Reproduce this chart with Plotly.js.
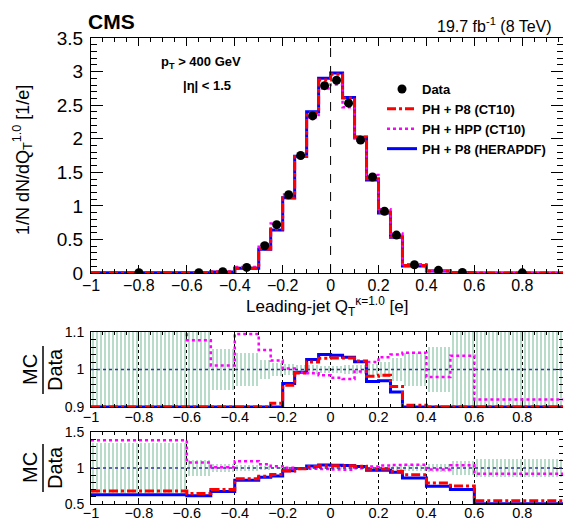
<!DOCTYPE html>
<html><head><meta charset="utf-8">
<script src="https://cdn.plot.ly/plotly-3.0.1.min.js"></script>
<style>html,body{margin:0;padding:0;background:#fff}#chart{width:563px;height:521px}</style>
</head><body><div id="chart"></div>
<script>
// ---- data ----
const binEdges = [-1,-0.6,-0.5,-0.4,-0.3,-0.25,-0.2,-0.15,-0.1,-0.05,0,0.05,0.1,0.15,0.2,0.25,0.3,0.4,0.5,0.6,1.0];
const dataValues = [0.003,0.005,0.02,0.083,0.406,0.72,1.165,1.75,2.34,2.79,2.87,2.53,1.98,1.43,0.92,0.565,0.123,0.04,0.008,0.002];
const dataRelErr = [0.35,0.11,0.055,0.045,0.025,0.018,0.014,0.012,0.011,0.01,0.01,0.011,0.012,0.015,0.02,0.03,0.045,0.06,0.1,0.13];
const mcP8CT10 = [0.002,0.0032,0.014,0.0706,0.359,0.655,1.116,1.734,2.387,2.874,2.959,2.608,2.026,1.404,0.906,0.540,0.111,0.0316,0.006,0.0011];
const mcHPPCT10 = [0.0042,0.0054,0.0202,0.0909,0.427,0.737,1.168,1.736,2.317,2.748,2.807,2.467,1.970,1.459,0.950,0.588,0.129,0.039,0.0083,0.0018];
const mcP8HERA = [0.0019,0.0031,0.0135,0.0689,0.353,0.641,1.122,1.738,2.403,2.902,2.979,2.613,2.022,1.384,0.892,0.531,0.106,0.0298,0.0056,0.001];
const ratioP8CT10 = [0.68,0.645,0.70,0.85,0.885,0.91,0.958,0.991,1.02,1.03,1.031,1.031,1.023,0.982,0.985,0.955,0.905,0.79,0.75,0.545];
const ratioHPPCT10 = [1.385,1.078,1.011,1.095,1.052,1.024,1.003,0.992,0.99,0.985,0.978,0.975,0.995,1.02,1.033,1.04,1.045,0.98,1.037,0.92];
const ratioP8HERA = [0.63,0.615,0.675,0.83,0.87,0.89,0.963,0.993,1.027,1.04,1.038,1.033,1.021,0.968,0.97,0.94,0.86,0.745,0.70,0.505];
const seriesNames = ['Data','PH + P8 (CT10)','PH + HPP (CT10)','PH + P8 (HERAPDF)'];

// ---- helpers ----
const centers = binEdges.slice(0,-1).map((e,i)=>(e+binEdges[i+1])/2);
const widths = binEdges.slice(0,-1).map((e,i)=>binEdges[i+1]-e);
const stepY = v => v.concat([v[v.length-1]]);
const clampLow = (v,lo) => v.map(a=>Math.max(a,lo));

const FONT = 'Liberation Sans, Arial, Helvetica, sans-serif';
const RED='#ff0000', MAG='#ff00ff', BLUE='#0000ff', GREEN='#88c4a4';
const W=563,H=521, L=91, R=0, T=38, B=17;
const pw=W-L-R, ph=H-T-B;
const px = x => (x-L)/pw;
const py = y => (H-B-y)/ph;

const traces = [];
// top panel
traces.push({x:binEdges, y:stepY(mcP8HERA), type:'scatter', mode:'lines', line:{shape:'hv', color:BLUE, width:3}, name:seriesNames[3], legendrank:4, xaxis:'x', yaxis:'y'});
traces.push({x:binEdges, y:stepY(mcHPPCT10), type:'scatter', mode:'lines', line:{shape:'hv', color:MAG, width:2.5, dash:'dot'}, name:seriesNames[2], legendrank:3, xaxis:'x', yaxis:'y'});
traces.push({x:binEdges, y:stepY(mcP8CT10), type:'scatter', mode:'lines', line:{shape:'hv', color:RED, width:3, dash:'dashdot'}, name:seriesNames[1], legendrank:2, xaxis:'x', yaxis:'y'});
traces.push({x:centers, y:dataValues, type:'scatter', mode:'markers', marker:{color:'#000', size:9, symbol:'circle'},
  error_y:{type:'data', array:dataValues.map((d,i)=>d*dataRelErr[i]), color:'#000', thickness:1.5, width:0},
  name:seriesNames[0], legendrank:1, xaxis:'x', yaxis:'y'});

// ratio panels
[['x2','y2',0.9],['x3','y3',0.5]].forEach(([xa,ya,lo])=>{
  traces.push({type:'bar', x:centers, width:widths, base:dataRelErr.map(e=>1-e), y:dataRelErr.map(e=>2*e),
    marker:{color:GREEN, line:{width:0}, pattern:{shape:'|', size:4, solidity:0.3}}, showlegend:false, hoverinfo:'skip', xaxis:xa, yaxis:ya});
  traces.push({x:binEdges, y:stepY(clampLow(ratioP8HERA,lo)), type:'scatter', mode:'lines', line:{shape:'hv', color:BLUE, width:3}, showlegend:false, xaxis:xa, yaxis:ya});
  traces.push({x:binEdges, y:stepY(clampLow(ratioHPPCT10,lo)), type:'scatter', mode:'lines', line:{shape:'hv', color:MAG, width:2.5, dash:'dot'}, showlegend:false, xaxis:xa, yaxis:ya});
  traces.push({x:binEdges, y:stepY(clampLow(ratioP8CT10,lo)), type:'scatter', mode:'lines', line:{shape:'hv', color:RED, width:3, dash:'dashdot'}, showlegend:false, xaxis:xa, yaxis:ya});
});

const xBase = (anchor, fs, grid, standoff) => ({
  anchor:anchor, domain:[0,1], range:[-1,0.97], tick0:-1, dtick:0.2, ticks:'inside', ticklen:grid?6:8, tickcolor:'#000',
  minor:{dtick:0.05, ticks:'inside', ticklen:grid?3:4, tickcolor:'#000'},
  showline:true, linecolor:'#000', linewidth:1, mirror:'ticks', zeroline:false,
  showgrid:grid, gridcolor:'#000', griddash:'dot', gridwidth:1, ticklabelstandoff:standoff,
  tickfont:{family:FONT, size:fs, color:'#000'}
});
const yBase = (anchor, dom, rng, dt, mdt, fs, len) => ({
  anchor:anchor, domain:dom, range:rng, dtick:dt, tick0:rng[0], ticks:'inside', ticklen:len, tickcolor:'#000',
  minor:{dtick:mdt, ticks:'inside', ticklen:len/2, tickcolor:'#000'},
  showline:true, linecolor:'#000', linewidth:1, mirror:'ticks', zeroline:false, showgrid:false, ticklabelstandoff:3,
  tickfont:{family:FONT, size:fs, color:'#000'}
});

const ann = (x,y,text,size,opts={}) => Object.assign({xref:'paper', yref:'paper', x:px(x), y:py(y), text:text, showarrow:false,
  font:{family:FONT, size:size, color:'#000'}, xanchor:'center', yanchor:'middle'}, opts);

const layout = {
  width:W, height:H, margin:{l:L, r:R, t:T, b:B}, paper_bgcolor:'#fff', plot_bgcolor:'#fff',
  barmode:'overlay', bargap:0,
  font:{family:FONT, color:'#000'},
  xaxis: xBase('y', 16, false, -2),
  yaxis: yBase('x', [py(273), 1], [0,3.5], 0.5, 0.1, 19, 12),
  xaxis2: xBase('y2', 14.5, true, -3),
  yaxis2: yBase('x2', [py(407), py(332)], [0.9,1.1], 0.1, 0.02, 14, 9),
  xaxis3: xBase('y3', 14.5, true, -4),
  yaxis3: yBase('x3', [0, py(432)], [0.5,1.5], 0.5, 0.1, 14, 9),
  showlegend:true,
  legend:{x:px(382), y:py(74), xanchor:'left', yanchor:'top', bgcolor:'rgba(0,0,0,0)', borderwidth:0,
    font:{family:FONT, size:13, color:'#000', weight:'bold'}, tracegroupgap:0, itemwidth:30},
  shapes:[
    {type:'line', xref:'x', yref:'y domain', x0:0, x1:0, y0:0, y1:1, line:{color:'#000', width:1, dash:'dash'}},
    {type:'line', xref:'x2 domain', yref:'y2', x0:0, x1:1, y0:1, y1:1, line:{color:'#3333aa', width:1.5, dash:'dot'}},
    {type:'line', xref:'x3 domain', yref:'y3', x0:0, x1:1, y0:1, y1:1, line:{color:'#3333aa', width:1.5, dash:'dot'}},
    {type:'line', xref:'paper', yref:'paper', x0:px(43), x1:px(43), y0:py(346), y1:py(394), line:{color:'#000', width:1.5}},
    {type:'line', xref:'paper', yref:'paper', x0:px(43), x1:px(43), y0:py(444), y1:py(492), line:{color:'#000', width:1.5}}
  ],
  annotations:[
    ann(86,21,'<b>CMS</b>',21,{xanchor:'left'}),
    ann(554,25,'19.7 fb<sup>-1</sup> (8 TeV)',16,{xanchor:'right'}),
    ann(159,63,'<b>p<sub>T</sub> > 400 GeV</b>',13,{xanchor:'left'}),
    ann(207,85,'<b>|η| < 1.5</b>',13),
    ann(410,306,'Leading-jet Q<sub>T</sub><sup>κ=1.0</sup> [e]',17,{xanchor:'right'}),
    ann(22,160,'1/N dN/dQ<sub>T</sub><sup>1.0</sup> [1/e]',18,{textangle:-90}),
    ann(30,370,'MC',20,{textangle:-90}),
    ann(55,370,'Data',20,{textangle:-90}),
    ann(30,468,'MC',20,{textangle:-90}),
    ann(55,468,'Data',20,{textangle:-90})
  ]
};

Plotly.newPlot('chart', traces, layout, {staticPlot:true, displayModeBar:false});
</script></body></html>
